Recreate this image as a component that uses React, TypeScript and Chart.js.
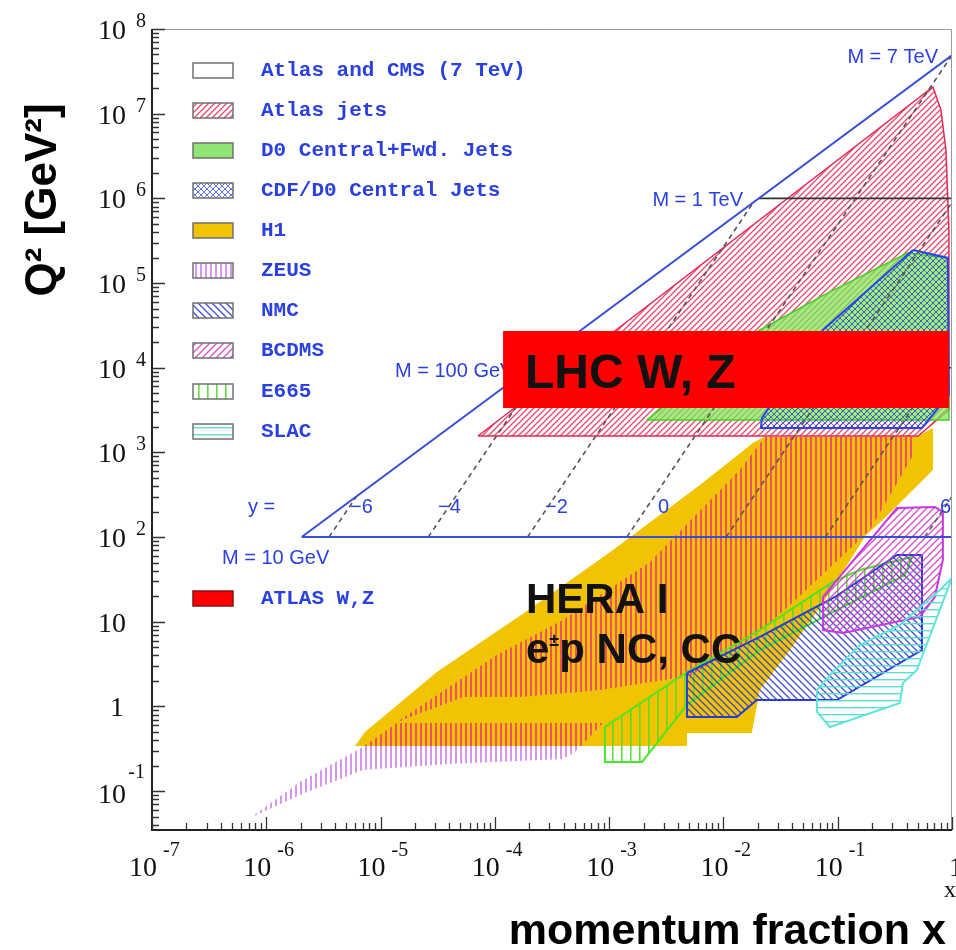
import React, { useEffect, useRef } from "react";
import { Chart, registerables } from "chart.js";

Chart.register(...registerables);

// ---------------- axes ----------------
const X_TICK_EXPONENTS = [-7, -6, -5, -4, -3, -2, -1, 0];
const Y_TICK_EXPONENTS = [-1, 0, 1, 2, 3, 4, 5, 6, 7, 8];
const X_MIN = 1e-7;
const X_MAX = 1;
const Y_MIN = 0.0347;
const Y_MAX = 1e8;

// ---------------- kinematic limits (sqrt(s) = 7 TeV) ----------------
const LHC_LIMIT_X = [2.04e-6, 1, 1, 2.04e-6];
const LHC_LIMIT_Q2 = [100, 4.9e7, 100, 100];
const M_1TEV_X = [0.0204, 1];
const M_1TEV_Q2 = [1e6, 1e6];
const M_100GEV_X = [2.04e-4, 1];
const M_100GEV_Q2 = [1e4, 1e4];

// rapidity lines y = -6 ... 6
const RAPIDITY = [-6, -4, -2, 0, 2, 4, 6];
const RAPIDITY_X_START = [3.541e-6, 2.617e-5, 1.933e-4, 1.4286e-3, 1.0556e-2, 7.8e-2, 0.5763];
const RAPIDITY_Q2_START = [100, 100, 100, 100, 100, 100, 100];
const RAPIDITY_X_END = [6.144e-6, 3.355e-4, 1.832e-2, 1, 1, 1, 1];
const RAPIDITY_Q2_END = [301, 16438, 8.975e5, 4.9e7, 8.975e5, 16438, 301];

// ---------------- experiment regions ----------------
const ATLAS_JETS_X = [7.11e-5, 0.681, 0.8, 0.885, 0.94, 0.94, 0.504];
const ATLAS_JETS_Q2 = [1560, 2.07e7, 1.11e7, 3.73e6, 4.24e5, 3170, 1560];

const D0_X = [2.14e-3, 6.22e-3, 2.08e-2, 8.55e-2, 0.411, 0.92, 0.94];
const D0_Q2 = [2420, 7570, 2.79e4, 7.85e4, 2.27e5, 1.98e5, 2420];

const CDF_X = [0.455, 0.92, 0.94, 0.546, 2.13e-2, 2.17e-2, 7.43e-2];
const CDF_Q2 = [2.46e5, 1.98e5, 4770, 1940, 1940, 2550, 2.79e4];

const H1_X = [5.97e-6, 7.3e-6, 3.11e-5, 1.91e-4, 1.08e-3, 6.22e-3, 1.81e-2, 2.26e-2, 0.504, 0.681, 0.681, 0.248, 0.177, 7.73e-2, 3.82e-2, 2.08e-2, 1.77e-2, 4.8e-3, 4.8e-3];
const H1_Q2 = [0.34, 0.499, 2.55, 13.4, 70.3, 412, 1290, 1520, 1560, 1940, 620, 159, 106, 18.1, 4.63, 1.56, 0.485, 0.485, 0.34];

const ZEUS_X = [1.39e-5, 1.04e-4, 3.94e-4, 2.28e-3, 1.39e-2, 2.31e-2, 0.473, 0.473, 0.191, 3.82e-2, 1.71e-2, 5.09e-3, 8.31e-4, 1.66e-4, 5.26e-5];
const ZEUS_Q2 = [0.655, 4.04, 10.5, 50.8, 620, 1520, 1520, 1010, 121, 15.8, 6.09, 2.29, 1.56, 1.29, 1.29];

const ZEUS_LOWQ2_X = [7.2e-7, 1.97e-6, 7.0e-6, 1.39e-5, 8.82e-4, 5.02e-4, 3.94e-4, 4.05e-5, 7.0e-6, 1.97e-6];
const ZEUS_LOWQ2_Q2 = [0.0481, 0.128, 0.331, 0.637, 0.637, 0.289, 0.239, 0.209, 0.177, 0.0897];

const E665_X = [9.18e-4, 4.8e-3, 1.96e-2, 9.08e-2, 0.156, 0.446, 0.387, 9.08e-2, 2.08e-2, 4.8e-3, 1.94e-3, 9.18e-4];
const E665_Q2 = [0.571, 2.55, 7.56, 29.5, 40.8, 58.2, 35.6, 13.0, 4.63, 1.04, 0.22, 0.22];

const NMC_X = [4.8e-3, 2.08e-2, 9.46e-2, 0.33, 0.546, 0.546, 9.84e-2, 1.96e-2, 1.31e-2, 4.8e-3];
const NMC_Q2 = [2.48, 6.61, 19.6, 61.4, 61.4, 4.63, 1.19, 1.19, 0.75, 0.75];

const BCDMS_X = [7.43e-2, 0.33, 0.708, 0.832, 0.832, 0.708, 0.524, 0.111, 7.43e-2];
const BCDMS_Q2 = [19.6, 220, 226, 198, 53.6, 19.6, 11.4, 7.36, 7.98];

const SLAC_X = [6.58e-2, 6.58e-2, 8.55e-2, 0.35, 0.372, 0.493, 1.0, 0.783, 0.35, 0.156, 9.08e-2];
const SLAC_Q2 = [1.56, 0.859, 0.571, 1.1, 1.89, 2.69, 32.9, 23.7, 9.15, 5.31, 2.55];

const ATLAS_WZ_X = [1.18e-4, 0.94, 0.94, 1.18e-4];
const ATLAS_WZ_Q2 = [3350, 3350, 2.72e4, 2.72e4];

const LEGEND_LABELS = [
  "Atlas and CMS (7 TeV)",
  "Atlas jets",
  "D0 Central+Fwd. Jets",
  "CDF/D0 Central Jets",
  "H1",
  "ZEUS",
  "NMC",
  "BCDMS",
  "E665",
  "SLAC",
  "ATLAS W,Z",
];

const BLUE_TEXT = "#2b41df";
const SANS = '"Liberation Sans", Arial, Helvetica, sans-serif';
const SERIF = '"Liberation Serif", "Times New Roman", Times, serif';
const MONO = '"Liberation Mono", "Courier New", Courier, monospace';

function poly(xs: number[], qs: number[], close = true) {
  const pts = xs.map((x, i) => ({ x, y: qs[i] }));
  if (close) pts.push({ ...pts[0] });
  return pts;
}

function makePattern(ctx: CanvasRenderingContext2D, w: number, h: number, draw: (g: CanvasRenderingContext2D) => void) {
  const c = document.createElement("canvas");
  c.width = w;
  c.height = h;
  const g = c.getContext("2d")!;
  draw(g);
  return ctx.createPattern(c, "repeat")!;
}

function diag(g: CanvasRenderingContext2D, s: number, color: string, lw: number, forward: boolean) {
  g.strokeStyle = color;
  g.lineWidth = lw;
  g.beginPath();
  if (forward) {
    g.moveTo(-1, s + 1); g.lineTo(s + 1, -1);
    g.moveTo(-1, 1); g.lineTo(1, -1);
    g.moveTo(s - 1, s + 1); g.lineTo(s + 1, s - 1);
  } else {
    g.moveTo(-1, -1); g.lineTo(s + 1, s + 1);
    g.moveTo(s - 1, -1); g.lineTo(s + 1, 1);
    g.moveTo(-1, s - 1); g.lineTo(1, s + 1);
  }
  g.stroke();
}

function makePatterns(ctx: CanvasRenderingContext2D) {
  return {
    atlasJets: makePattern(ctx, 6, 6, (g) => diag(g, 6, "rgba(226,52,90,0.9)", 1.3, true)),
    cdf: makePattern(ctx, 6, 6, (g) => {
      diag(g, 6, "rgba(35,70,215,0.75)", 1, true);
      diag(g, 6, "rgba(35,70,215,0.75)", 1, false);
    }),
    zeus: makePattern(ctx, 5, 5, (g) => {
      g.fillStyle = "rgb(214,150,238)";
      g.fillRect(0, 0, 2, 5);
    }),
    zeusOnH1: makePattern(ctx, 5, 5, (g) => {
      g.fillStyle = "rgb(240,80,96)";
      g.fillRect(0, 0, 2, 5);
    }),
    nmc: makePattern(ctx, 7, 7, (g) => diag(g, 7, "rgba(45,60,205,0.9)", 1.3, false)),
    bcdms: makePattern(ctx, 7, 7, (g) => diag(g, 7, "rgba(210,60,190,0.9)", 1.3, true)),
    e665: makePattern(ctx, 9, 9, (g) => {
      g.fillStyle = "rgba(85,220,45,0.95)";
      g.fillRect(0, 0, 1.6, 9);
    }),
    slac: makePattern(ctx, 7, 7, (g) => {
      g.fillStyle = "rgba(90,218,205,0.95)";
      g.fillRect(0, 0, 7, 1.4);
    }),
  };
}

function region(label: string, xs: number[], qs: number[], bg: any, border: string | null, bw = 2) {
  return {
    label,
    data: poly(xs, qs),
    showLine: true,
    fill: bg ? "shape" : false,
    backgroundColor: bg || "rgba(0,0,0,0)",
    borderColor: border || "rgba(0,0,0,0)",
    borderWidth: border ? bw : 0,
    pointRadius: 0,
    tension: 0,
  };
}

export default function App() {
  const ref = useRef<HTMLCanvasElement>(null);

  useEffect(() => {
    const canvas = ref.current!;
    const ctx0 = canvas.getContext("2d")!;
    const P = makePatterns(ctx0);

    const rapidityDatasets = RAPIDITY.map((r, i) => ({
      label: "y=" + r,
      data: [
        { x: RAPIDITY_X_START[i], y: RAPIDITY_Q2_START[i] },
        { x: RAPIDITY_X_END[i], y: RAPIDITY_Q2_END[i] },
      ],
      showLine: true,
      fill: false,
      borderColor: "#555555",
      borderWidth: 1.6,
      borderDash: [5, 4],
      pointRadius: 0,
    }));

    // first dataset = drawn on top
    const datasets: any[] = [
      region("ATLAS W,Z", ATLAS_WZ_X, ATLAS_WZ_Q2, "#ff0000", null),
      region("Atlas and CMS (7 TeV)", LHC_LIMIT_X, LHC_LIMIT_Q2, null, "#3a4fd8", 2),
      { label: "M=1TeV", data: poly(M_1TEV_X, M_1TEV_Q2, false), showLine: true, fill: false, borderColor: "#333", borderWidth: 1.6, pointRadius: 0 },
      { label: "M=100GeV", data: poly(M_100GEV_X, M_100GEV_Q2, false), showLine: true, fill: false, borderColor: "#333", borderWidth: 1.6, pointRadius: 0 },
      ...rapidityDatasets,
      region("SLAC", SLAC_X, SLAC_Q2, P.slac, "rgb(95,228,218)", 2),
      region("BCDMS", BCDMS_X, BCDMS_Q2, P.bcdms, "rgb(200,55,225)", 2),
      region("NMC", NMC_X, NMC_Q2, P.nmc, "rgb(40,60,215)", 2),
      region("E665", E665_X, E665_Q2, P.e665, "rgb(70,230,40)", 2),
      region("ZEUS low Q2", ZEUS_LOWQ2_X, ZEUS_LOWQ2_Q2, P.zeus, null),
      region("ZEUS", ZEUS_X, ZEUS_Q2, P.zeus, null),
      region("CDF/D0 Central Jets", CDF_X, CDF_Q2, P.cdf, "rgb(40,70,235)", 2),
      region("D0 Central+Fwd. Jets", D0_X, D0_Q2, "rgba(125,232,85,0.72)", "rgb(70,205,40)", 1.5),
      region("Atlas jets", ATLAS_JETS_X, ATLAS_JETS_Q2, P.atlasJets, "rgb(228,40,85)", 1.5),
      region("H1", H1_X, H1_Q2, "#f2c300", null),
    ];

    const pathOf = (ctx: CanvasRenderingContext2D, pts: any[]) => {
      ctx.beginPath();
      pts.forEach((p: any, i: number) => (i ? ctx.lineTo(p.x, p.y) : ctx.moveTo(p.x, p.y)));
      ctx.closePath();
    };

    const drawTen = (ctx: CanvasRenderingContext2D, exp: string, xr: number, yb: number, supRight: number, supBase: number) => {
      ctx.font = "28px " + SERIF;
      ctx.textAlign = "right";
      ctx.fillText("10", xr, yb);
      ctx.font = "20px " + SERIF;
      ctx.fillText(exp, supRight, supBase);
    };

    const decor = {
      id: "decor",
      beforeDatasetsDraw(chart: any) {
        const ctx = chart.ctx;
        ctx.save();
        ctx.fillStyle = BLUE_TEXT;
        ctx.font = "20px " + SANS;
        ctx.textAlign = "left";
        ctx.textBaseline = "middle";
        ctx.fillText("M = 100 GeV", 395, 371);
        ctx.restore();
      },
      afterDatasetDraw(chart: any, args: any) {
        const ds = chart.data.datasets[args.index];
        if (!ds.label || !ds.label.startsWith("ZEUS")) return;
        const h1Index = chart.data.datasets.findIndex((d: any) => d.label === "H1");
        const h1 = chart.getDatasetMeta(h1Index).data;
        const z = args.meta.data;
        const ctx = chart.ctx;
        const a = chart.chartArea;
        ctx.save();
        ctx.beginPath();
        ctx.rect(a.left, a.top, a.right - a.left, a.bottom - a.top);
        ctx.clip();
        pathOf(ctx, h1);
        ctx.clip();
        pathOf(ctx, z);
        ctx.fillStyle = P.zeusOnH1;
        ctx.fill();
        ctx.restore();
      },
      afterDatasetsDraw(chart: any) {
        const ctx = chart.ctx;
        ctx.save();
        ctx.fillStyle = BLUE_TEXT;
        ctx.font = "20px " + SANS;
        ctx.textBaseline = "middle";
        ctx.textAlign = "right";
        ctx.fillText("M = 7 TeV", 938, 57);
        ctx.fillText("M = 1 TeV", 743, 200);
        ctx.textAlign = "left";
        ctx.fillText("M = 10 GeV", 222, 558);
        ctx.fillText("y =", 248, 507);
        ctx.fillText("\u22126", 350, 507);
        ctx.fillText("\u22124", 438, 507);
        ctx.fillText("\u22122", 545, 507);
        ctx.fillText("0", 658, 507);
        ctx.fillText("6", 940, 507);
        ctx.restore();
      },
      afterDraw(chart: any) {
        const ctx = chart.ctx;
        const a = chart.chartArea;
        const xs = chart.scales.x;
        const ys = chart.scales.y;
        ctx.save();
        // frame
        ctx.strokeStyle = "#9a9a9a";
        ctx.lineWidth = 1;
        ctx.beginPath();
        ctx.moveTo(a.left, a.top + 0.5);
        ctx.lineTo(a.right - 0.5, a.top + 0.5);
        ctx.lineTo(a.right - 0.5, a.bottom);
        ctx.stroke();
        ctx.strokeStyle = "#222";
        ctx.lineWidth = 2;
        ctx.beginPath();
        ctx.moveTo(a.left, a.top);
        ctx.lineTo(a.left, a.bottom);
        ctx.lineTo(a.right, a.bottom);
        ctx.stroke();
        // ticks
        ctx.lineWidth = 1.3;
        ctx.strokeStyle = "#333";
        ctx.beginPath();
        for (let e = -2; e <= 8; e++) {
          for (let m = 1; m <= 9; m++) {
            const v = m * Math.pow(10, e);
            if (v < Y_MIN || v > Y_MAX) continue;
            const py = Math.round(ys.getPixelForValue(v)) + 0.5;
            const len = m === 1 ? 13 : 7;
            ctx.moveTo(a.left, py);
            ctx.lineTo(a.left + len, py);
          }
        }
        for (let e = -7; e <= 0; e++) {
          for (let m = 1; m <= 9; m++) {
            const v = m * Math.pow(10, e);
            if (v < X_MIN || v > X_MAX) continue;
            const px = Math.round(xs.getPixelForValue(v)) + 0.5;
            const len = m === 1 ? 13 : 7;
            ctx.moveTo(px, a.bottom);
            ctx.lineTo(px, a.bottom - len);
          }
        }
        ctx.stroke();

        // tick labels
        ctx.fillStyle = "#111";
        ctx.textBaseline = "alphabetic";
        Y_TICK_EXPONENTS.forEach((e) => {
          const py = ys.getPixelForValue(Math.pow(10, e));
          if (e === 0) {
            ctx.font = "28px " + SERIF;
            ctx.textAlign = "right";
            ctx.fillText("1", 124, py + 10);
          } else if (e === 1) {
            ctx.font = "28px " + SERIF;
            ctx.textAlign = "right";
            ctx.fillText("10", 126, py + 10);
          } else if (e < 0) {
            drawTen(ctx, String(e), 126, py + 12, 145, py - 13);
          } else {
            drawTen(ctx, String(e), 126, py + 10, 146, py - 2);
          }
        });
        X_TICK_EXPONENTS.forEach((e) => {
          const px = xs.getPixelForValue(Math.pow(10, e));
          if (e === 0) {
            ctx.font = "28px " + SERIF;
            ctx.textAlign = "left";
            ctx.fillText("1", px - 3, 876);
          } else {
            ctx.font = "28px " + SERIF;
            ctx.textAlign = "center";
            ctx.fillText("10", px - 9, 876);
            ctx.font = "20px " + SERIF;
            ctx.textAlign = "left";
            ctx.fillText(String(e), px + 11, 856);
          }
        });
        ctx.font = "24px " + SERIF;
        ctx.textAlign = "center";
        ctx.fillText("x", 950, 897);

        // axis titles
        ctx.fillStyle = "#000";
        ctx.font = "bold 43px " + SANS;
        ctx.textAlign = "right";
        ctx.fillText("momentum fraction x", 946, 944);
        ctx.save();
        ctx.translate(56, 200);
        ctx.rotate(-Math.PI / 2);
        ctx.textAlign = "center";
        ctx.font = "bold 44px " + SANS;
        ctx.fillText("Q\u00B2 [GeV\u00B2]", 0, 0);
        ctx.restore();

        // legend
        const rows = [70, 110, 150, 190, 230, 270, 310, 350, 391, 431, 598];
        const fills: any[] = [
          ["#ffffff"],
          ["#ffffff", P.atlasJets],
          ["#90e474"],
          ["#ffffff", P.cdf],
          ["#f2c300"],
          ["#ffffff", P.zeus],
          ["#ffffff", P.nmc],
          ["#ffffff", P.bcdms],
          ["#ffffff", P.e665],
          ["#ffffff", P.slac],
          ["#ff0000"],
        ];
        LEGEND_LABELS.forEach((lab, i) => {
          const y = rows[i];
          const bx = 193, by = y - 7, bw = 40, bh = 15;
          fills[i].forEach((f: any) => {
            ctx.fillStyle = f;
            ctx.fillRect(bx, by, bw, bh);
          });
          ctx.strokeStyle = i === 10 ? "#8a1010" : "#707070";
          ctx.lineWidth = 1.5;
          ctx.strokeRect(bx, by, bw, bh);
          ctx.fillStyle = BLUE_TEXT;
          ctx.font = "bold 21px " + MONO;
          ctx.textAlign = "left";
          ctx.textBaseline = "middle";
          ctx.fillText(lab, 261, y + 1);
        });

        // big annotations
        ctx.textBaseline = "alphabetic";
        ctx.textAlign = "left";
        ctx.fillStyle = "#111";
        ctx.font = "bold 48px " + SANS;
        ctx.fillText("LHC W, Z", 525, 388);
        ctx.font = "bold 42px " + SANS;
        ctx.fillText("HERA I", 526, 613);
        const w1 = ctx.measureText("e").width;
        ctx.fillText("e", 526, 663);
        ctx.font = "bold 18px " + SANS;
        ctx.fillText("\u00B1", 526 + w1, 646);
        const w2 = ctx.measureText("\u00B1").width;
        ctx.font = "bold 42px " + SANS;
        ctx.fillText("p NC, CC", 526 + w1 + w2, 663);
        ctx.restore();
      },
    };

    const chart = new Chart(canvas, {
      type: "scatter",
      data: { datasets },
      options: {
        responsive: false,
        animation: false,
        devicePixelRatio: 1,
        events: [],
        layout: { padding: { left: 152, right: 4, top: 29, bottom: 120 } },
        scales: {
          x: { type: "logarithmic", min: X_MIN, max: X_MAX, display: false },
          y: { type: "logarithmic", min: Y_MIN, max: Y_MAX, display: false },
        },
        plugins: { legend: { display: false }, tooltip: { enabled: false } },
        elements: { point: { radius: 0 }, line: { tension: 0 } },
      } as any,
      plugins: [decor as any],
    });
    return () => chart.destroy();
  }, []);

  return (
    <div style={{ position: "absolute", left: 0, top: 0, width: 956, height: 950, background: "#ffffff" }}>
      <canvas ref={ref} width={956} height={950} style={{ display: "block" }} />
    </div>
  );
}
